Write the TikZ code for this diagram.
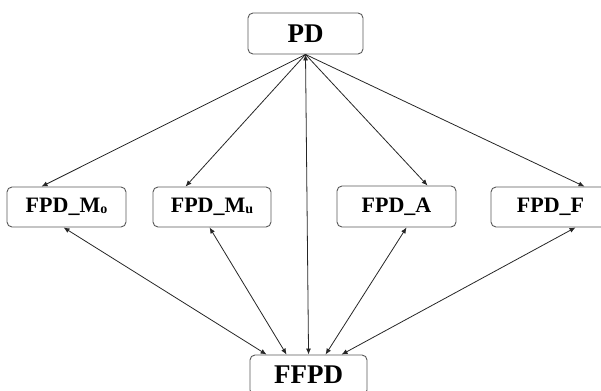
\documentclass[tikz,border=0pt]{standalone}
\usepackage{fontspec}
\setmainfont{Liberation Serif}
\usetikzlibrary{calc,arrows.meta}
\begin{document}
\begin{tikzpicture}[x=1pt,y=1pt,
  box/.style={draw=black!65,line width=0.9pt,rounded corners=5pt,inner sep=0pt,minimum height=40pt,fill=white},
  bigtxt/.style={font=\bfseries\fontsize{27}{27}\selectfont},
  midtxt/.style={font=\bfseries\fontsize{22}{22}\selectfont},
  con/.style={draw=black!85,line width=0.8pt,-{Latex[length=6pt,width=5pt]}},
  bicon/.style={draw=black!85,line width=0.8pt,{Latex[length=6pt,width=5pt]}-{Latex[length=6pt,width=5pt]}}]
\useasboundingbox (0,0) rectangle (601,390);
\node[box,bigtxt,minimum width=115pt,minimum height=41pt] (PD) at (305.5,356.5) {PD};
\node[box,midtxt,minimum width=119pt] (Mo) at (66.5,183) {FPD\_M\raisebox{-1pt}{\fontsize{14}{14}\selectfont o}};
\node[box,midtxt,minimum width=118pt] (Mu) at (212,183) {FPD\_M\raisebox{-1pt}{\fontsize{14}{14}\selectfont u}};
\node[box,midtxt,minimum width=119pt,minimum height=41pt] (A) at (396.5,183.5) {FPD\_A};
\node[box,midtxt,minimum width=119pt] (F) at (550.5,183) {FPD\_F};
\node[box,bigtxt,minimum width=117pt] (FF) at (308.5,15) {FFPD};
% PD to middle
\draw[con] (PD.south) -- ($(Mo.north west)+(35,0)$);
\draw[con] (PD.south) -- ($(Mu.north west)+(33,0)$);
\draw[con] (PD.south) -- ($(A.north west)+(91,0)$);
\draw[con] (PD.south) -- ($(F.north west)+(94,0)$);
\draw[bicon] (PD.south) -- ($(FF.north west)+(59,0)$);
% middle to FFPD
\draw[bicon] ($(Mo.south west)+(57,0)$) -- ($(FF.north west)+(17,0)$);
\draw[bicon] ($(Mu.south west)+(57,0)$) -- ($(FF.north west)+(37,0)$);
\draw[bicon] ($(A.south west)+(70,0)$) -- ($(FF.north west)+(76,0)$);
\draw[bicon] ($(F.south west)+(85,0)$) -- ($(FF.north west)+(92,0)$);
\end{tikzpicture}
\end{document}
